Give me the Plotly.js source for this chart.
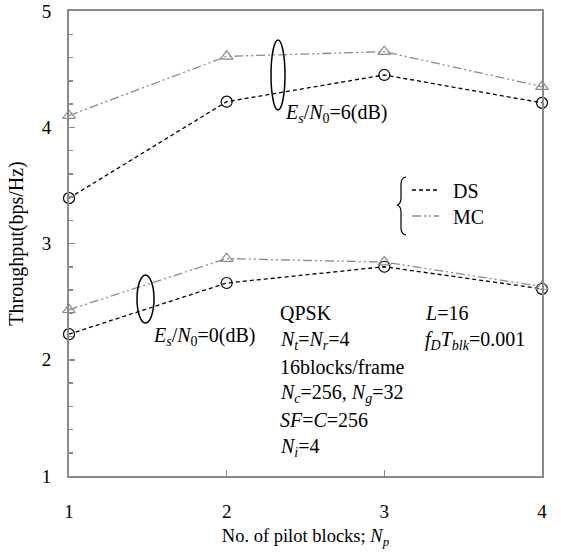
<!DOCTYPE html>
<html>
<head>
<meta charset="utf-8">
<script src="https://cdn.plot.ly/plotly-3.0.1.min.js"></script>
<style>html,body{margin:0;padding:0;background:#fff;}#chart{width:561px;height:555px;}</style>
</head>
<body>
<div id="chart"></div>
<script>
// ---- data ----
const pilotBlocks = [1, 2, 3, 4];
const ds6 = [3.39, 4.22, 4.45, 4.21];
const mc6 = [4.10, 4.61, 4.65, 4.35];
const ds0 = [2.22, 2.66, 2.80, 2.61];
const mc0 = [2.43, 2.87, 2.84, 2.63];
const xTicks = [1, 2, 3, 4];
const yTicks = [1, 2, 3, 4, 5];
const seriesNames = ['DS', 'MC'];

// ---- styles ----
const FONT = 'Liberation Serif, Times New Roman, serif';
const GRAY = '#8a8a8a';
const dsLine = {color: '#000', width: 1.3, dash: '4px,3px'};
const mcLine = {color: GRAY, width: 1.3, dash: '9px,3px,2px,3px,2px,3px'};
const dsMarker = {symbol: 'circle-open', size: 11, color: '#000', line: {width: 1.2, color: '#000'}};
const mcMarker = {symbol: 'triangle-up-open', size: 11, color: GRAY, line: {width: 1.2, color: GRAY}};

const traces = [
  {x: pilotBlocks, y: ds6, mode: 'lines+markers', line: dsLine, marker: dsMarker, name: seriesNames[0], cliponaxis: false},
  {x: pilotBlocks, y: mc6, mode: 'lines+markers', line: mcLine, marker: mcMarker, name: seriesNames[1], cliponaxis: false},
  {x: pilotBlocks, y: ds0, mode: 'lines+markers', line: dsLine, marker: dsMarker, name: seriesNames[0], cliponaxis: false},
  {x: pilotBlocks, y: mc0, mode: 'lines+markers', line: mcLine, marker: mcMarker, name: seriesNames[1], cliponaxis: false}
];

// plot area in pixels
const L = 69, R = 542, T = 11, B = 476;
const px = v => (v - L) / (R - L);
const py = v => (B - v) / (B - T);

function ann(text, xpix, ypix, size) {
  return {text: text, xref: 'paper', yref: 'paper', x: px(xpix), y: py(ypix),
    xanchor: 'left', yanchor: 'middle', showarrow: false,
    font: {family: FONT, size: size || 20, color: '#000'}};
}

const annotations = [
  ann('<i>E<sub>s</sub></i>/<i>N</i><sub>0</sub>=6(dB)', 283, 113),
  ann('<i>E<sub>s</sub></i>/<i>N</i><sub>0</sub>=0(dB)', 151, 336),
  ann('QPSK', 278, 313),
  ann('<i>N<sub>t</sub></i>=<i>N<sub>r</sub></i>=4', 278, 340),
  ann('16blocks/frame', 278, 367),
  ann('<i>N<sub>c</sub></i>=256, <i>N<sub>g</sub></i>=32', 278, 393),
  ann('<i>SF</i>=<i>C</i>=256', 278, 420),
  ann('<i>N<sub>i</sub></i>=4', 278, 447),
  ann('<i>L</i>=16', 423, 313),
  ann('<i>f<sub>D</sub>T<sub>blk</sub></i>=0.001', 423, 340),
  // legend texts
  ann(seriesNames[0], 451, 191),
  ann(seriesNames[1], 451, 217)
];

// brace path in paper coords
function bracePath() {
  const pts = [
    ['M', 406, 177], ['Q', 401, 178, 401, 184], ['L', 401, 198], ['Q', 401, 204, 397, 205],
    ['Q', 401, 206, 401, 212], ['L', 401, 228], ['Q', 401, 234, 406, 235]
  ];
  return pts.map(p => {
    let s = p[0];
    for (let i = 1; i < p.length; i += 2) s += ' ' + px(p[i]).toFixed(4) + ',' + py(p[i + 1]).toFixed(4);
    return s;
  }).join(' ');
}

const shapes = [
  {type: 'circle', xref: 'paper', yref: 'paper', x0: px(271), x1: px(285), y0: py(110), y1: py(40),
   line: {color: '#000', width: 1.5}},
  {type: 'circle', xref: 'paper', yref: 'paper', x0: px(137), x1: px(154), y0: py(323), y1: py(275),
   line: {color: '#000', width: 1.5}},
  {type: 'path', xref: 'paper', yref: 'paper', path: bracePath(), line: {color: '#000', width: 1.2}},
  // legend samples
  {type: 'line', xref: 'paper', yref: 'paper', x0: px(412), x1: px(439), y0: py(190), y1: py(190), line: dsLine},
  {type: 'line', xref: 'paper', yref: 'paper', x0: px(412), x1: px(439), y0: py(216), y1: py(216), line: mcLine}
];

const layout = {
  width: 561, height: 555,
  margin: {l: L, r: 561 - R, t: T, b: 555 - B, pad: 0},
  paper_bgcolor: '#fff', plot_bgcolor: '#fff',
  font: {family: FONT, size: 19, color: '#000'},
  showlegend: false,
  xaxis: {
    range: [1, 4], tickvals: xTicks, ticktext: xTicks.map(String),
    ticks: 'inside', ticklen: 6, tickcolor: GRAY, tickwidth: 1.5,
    showline: true, linecolor: GRAY, linewidth: 2, mirror: true,
    showgrid: false, zeroline: false, ticklabelstandoff: 17,
    tickfont: {family: FONT, size: 19},
    title: {text: 'No. of pilot blocks; <i>N<sub>p</sub></i>', font: {family: FONT, size: 18.5}, standoff: 8}
  },
  yaxis: {
    range: [1, 5], tickvals: yTicks, ticktext: yTicks.map(String),
    ticks: 'inside', ticklen: 6, tickcolor: GRAY, tickwidth: 1.5,
    minor: {dtick: 0.2, ticks: 'inside', ticklen: 4, tickcolor: GRAY, tickwidth: 1.5},
    showline: true, linecolor: GRAY, linewidth: 2, mirror: true,
    showgrid: false, zeroline: false, ticklabelstandoff: 12,
    tickfont: {family: FONT, size: 19},
    title: {text: 'Throughput(bps/Hz)', font: {family: FONT, size: 20}, standoff: 13}
  },
  annotations: annotations,
  shapes: shapes
};

Plotly.newPlot('chart', traces, layout, {staticPlot: true, displayModeBar: false});
</script>
</body>
</html>
